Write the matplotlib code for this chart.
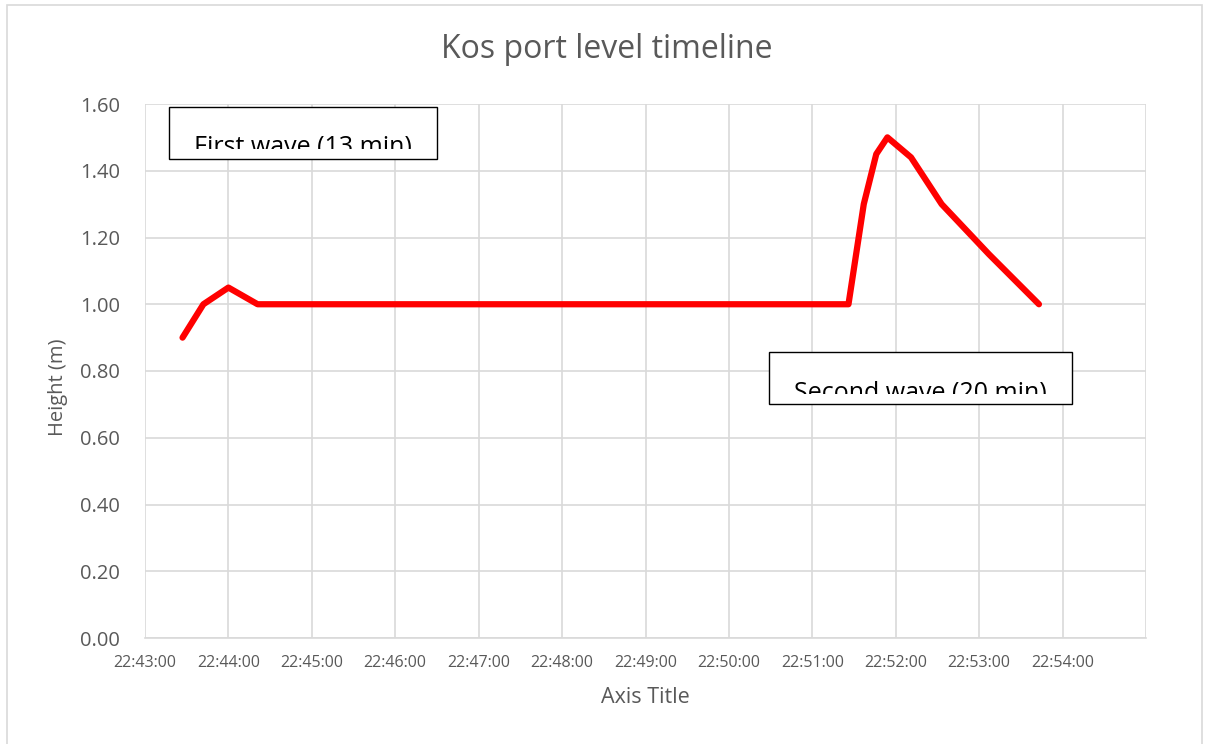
import matplotlib
matplotlib.use("Agg")
import matplotlib.pyplot as plt
import matplotlib.dates as mdates
from matplotlib.patches import Rectangle
from datetime import datetime

plt.rcParams['font.family'] = ['Open Sans', 'DejaVu Sans']

# data
times = ["22:43:27", "22:43:42", "22:44:00", "22:44:21", "22:51:26", "22:51:37",
         "22:51:46", "22:51:54", "22:52:11", "22:52:33", "22:53:07", "22:53:43"]
heights = [0.90, 1.00, 1.05, 1.00, 1.00, 1.30, 1.45, 1.50, 1.44, 1.30, 1.15, 1.00]

y_ticks = [0.0, 0.2, 0.4, 0.6, 0.8, 1.0, 1.2, 1.4, 1.6]
box_labels = ["First wave (13 min)", "Second wave (20 min)"]

day = "2017-07-20 "
x = [datetime.strptime(day + t, "%Y-%m-%d %H:%M:%S") for t in times]

gray = "#595959"
grid = "#d9d9d9"
W, H = 1209, 744

fig = plt.figure(figsize=(12.09, 7.44), dpi=100)
fig.patches.append(Rectangle((7 / W, -0.01), 1195 / W, 1 - 5 / H + 0.01,
                             transform=fig.transFigure, fill=False,
                             edgecolor=grid, linewidth=1.2))
ax = fig.add_axes([145 / W, 1 - 638 / H, 1001 / W, 534 / H])

ax.plot(x, heights, color="#ff0000", linewidth=4.5, solid_capstyle="round",
        solid_joinstyle="round", zorder=3)

ax.set_xlim(datetime.strptime(day + "22:43:00", "%Y-%m-%d %H:%M:%S"),
            datetime.strptime(day + "22:55:00", "%Y-%m-%d %H:%M:%S"))
ax.set_ylim(0, 1.6)
ax.set_yticks(y_ticks)
ax.yaxis.set_major_formatter(plt.FuncFormatter(lambda v, p: "%.2f" % v))
ax.xaxis.set_major_locator(mdates.MinuteLocator())
ax.xaxis.set_major_formatter(mdates.DateFormatter("%H:%M:%S"))

ax.grid(True, color=grid, linewidth=1.2)
ax.set_axisbelow(True)
for s in ["top", "right", "left"]:
    ax.spines[s].set_visible(False)
ax.spines["bottom"].set_color(grid)
ax.spines["bottom"].set_linewidth(1.2)
ax.tick_params(length=0, colors=gray)
ax.tick_params(axis="y", labelsize=14.5, pad=18)
ax.tick_params(axis="x", labelsize=11.5, pad=12)

# hide last tick label (22:55:00)
fig.canvas.draw()
for lab in ax.get_xticklabels():
    if lab.get_text() == "22:55:00":
        lab.set_visible(False)

ax.set_ylabel("Height (m)", color=gray, fontsize=14.5)
ax.yaxis.set_label_coords((68 - 145) / 1001, (638 - 387) / 534)
ax.set_xlabel("Axis Title", color=gray, fontsize=15.5)
ax.xaxis.set_label_coords((645 - 145) / 1001, (638 - 687) / 534)
fig.text(607 / W, 1 - 50 / H, "Kos port level timeline", color=gray,
         fontsize=23, ha="center", va="center")

# text boxes whose text is cut at the bottom
boxes = [(169, 107, 268, 52), (769, 352, 303, 52)]
for (bx, by, bw, bh), lab in zip(boxes, box_labels):
    r = Rectangle((bx / W, 1 - (by + bh) / H), bw / W, bh / H,
                  transform=fig.transFigure, facecolor="white",
                  edgecolor="black", linewidth=1.0, zorder=5)
    fig.patches.append(r)
    clip = Rectangle((bx / W, 1 - (by + bh - 10) / H), bw / W, (bh - 10) / H,
                     transform=fig.transFigure, visible=False)
    fig.patches.append(clip)
    t = fig.text((bx + bw / 2) / W, 1 - (by + 47) / H, lab,
                 color="black", fontsize=18, ha="center", va="baseline", zorder=6)
    t.set_clip_path(clip)

fig.savefig("out.png", dpi=100)
